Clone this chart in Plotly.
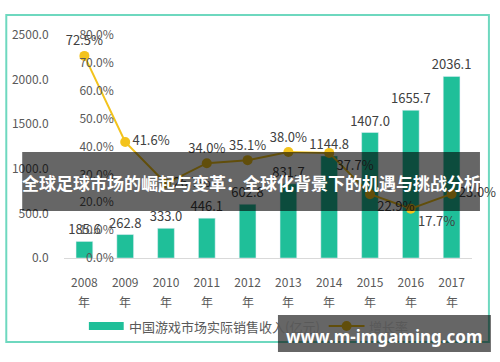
import plotly.graph_objects as go

years = ["2008", "2009", "2010", "2011", "2012", "2013", "2014", "2015", "2016", "2017"]
revenue = [185.6, 262.8, 333.0, 446.1, 602.8, 831.7, 1144.8, 1407.0, 1655.7, 2036.1]
growth = [0.725, 0.416, 0.267, 0.340, 0.351, 0.380, 0.377, 0.229, 0.177, 0.230]
growth_pos = ["top center", "middle right", "middle right", "top center", "top center",
              "top center", "bottom right", "bottom right", "bottom right", "middle right"]
left_ticks = [0, 500, 1000, 1500, 2000, 2500]
right_ticks = [0, 0.1, 0.2, 0.3, 0.4, 0.5, 0.6, 0.7, 0.8]
bar_name = "中国游戏市场实际销售收入(亿元)"
line_name = "增长率"
title_text = "全球足球市场的崛起与变革：全球化背景下的机遇与挑战分析"
watermark = "www.m-imgaming.com"

W, H = 500, 362
L, R, T, B = 62, 28, 35, 104
PW, PH = W - L - R, H - T - B

def px(x):
    return (x - L) / PW

def py(y):
    return (H - B - y) / PH

FONT = "Noto Sans CJK SC"
BAR_C = "#1fbf99"
LINE_C = "#f3c31c"
TXT = "#404040"
AX = "#595959"

fig = go.Figure()
fig.add_trace(go.Bar(
    x=years, y=revenue, name=bar_name, marker_color=BAR_C, width=0.41,
    text=[f"{v:.1f}" for v in revenue], textposition="outside", constraintext="none",
    textfont=dict(size=13, color=TXT), cliponaxis=False, showlegend=False,
))
fig.add_trace(go.Scatter(
    x=years, y=growth, name=line_name, yaxis="y2", mode="lines+markers+text",
    line=dict(color=LINE_C, width=2), marker=dict(size=10, color=LINE_C),
    text=[f"{v*100:.1f}%" for v in growth], textposition=growth_pos,
    textfont=dict(size=13, color=TXT), cliponaxis=False, showlegend=False,
))

fig.update_layout(
    width=W, height=H, margin=dict(l=L, r=R, t=T, b=B),
    paper_bgcolor="white", plot_bgcolor="white",
    font=dict(family=FONT, color=AX, size=12),
    xaxis=dict(type="category", range=[-0.5, len(years) - 0.5],
               categoryorder="array", categoryarray=years,
               showline=True, linecolor="#d9d9d9", linewidth=1,
               ticks="outside", ticklen=14, tickcolor="rgba(0,0,0,0)",
               tickfont=dict(size=12, color=AX), showgrid=False),
    yaxis=dict(range=[0, 2500], tickvals=left_ticks,
               ticktext=[f"{v:.1f}" for v in left_ticks], showgrid=False,
               zeroline=False, ticks="outside", ticklen=12, tickcolor="rgba(0,0,0,0)",
               tickfont=dict(size=12, color=AX)),
    yaxis2=dict(range=[0, 0.8], overlaying="y", anchor="free", side="left",
                position=px(112), tickvals=right_ticks,
                ticktext=[f"{v*100:.1f}%" for v in right_ticks],
                showgrid=False, zeroline=False, showline=False,
                tickfont=dict(size=12, color=AX)),
    showlegend=False,
)

# 年 row under year labels
for i, yr in enumerate(years):
    fig.add_annotation(x=i, xref="x", y=py(301), yref="paper", yanchor="middle",
                       text="年", showarrow=False, font=dict(size=12, color=AX))

shapes = []
# outer teal border
shapes.append(dict(type="rect", xref="paper", yref="paper", x0=px(4), x1=px(489),
                   y0=py(342), y1=py(15), line=dict(color="#6ed8bf", width=2),
                   fillcolor="rgba(0,0,0,0)", layer="below"))
# custom legend
shapes.append(dict(type="rect", xref="paper", yref="paper", x0=px(87), x1=px(122),
                   y0=py(330), y1=py(322), line=dict(width=0), fillcolor=BAR_C))
shapes.append(dict(type="line", xref="paper", yref="paper", x0=px(328), x1=px(364),
                   y0=py(326), y1=py(326), line=dict(color=LINE_C, width=2)))
shapes.append(dict(type="circle", xref="paper", yref="paper", x0=px(341), x1=px(351),
                   y0=py(331), y1=py(321), line=dict(width=0), fillcolor=LINE_C))
# overlays
shapes.append(dict(type="rect", xref="paper", yref="paper", x0=px(20), x1=px(480),
                   y0=py(211), y1=py(152), line=dict(width=0),
                   fillcolor="rgba(0,0,0,0.6)", layer="above"))
shapes.append(dict(type="rect", xref="paper", yref="paper", x0=px(277), x1=px(491),
                   y0=py(352), y1=py(315), line=dict(width=0),
                   fillcolor="rgba(0,0,0,0.6)", layer="above"))
fig.update_layout(shapes=shapes)

fig.add_annotation(x=px(125), y=py(326), xref="paper", yref="paper", xanchor="left",
                   yanchor="middle", text=bar_name, showarrow=False,
                   font=dict(size=13, color=AX))
fig.add_annotation(x=px(366), y=py(326), xref="paper", yref="paper", xanchor="left",
                   yanchor="middle", text=line_name, showarrow=False,
                   font=dict(size=13, color=AX))
fig.add_annotation(x=px(250), y=py(182), xref="paper", yref="paper", xanchor="center",
                   yanchor="middle", text="<b>" + title_text + "</b>", showarrow=False,
                   font=dict(size=17, color="white", family=FONT))
fig.add_annotation(x=px(384), y=py(336), xref="paper", yref="paper", xanchor="center",
                   yanchor="middle", text="<b>" + watermark + "</b>", showarrow=False,
                   font=dict(size=17, color="white", family="Noto Sans"))

fig.write_html("out.html", config={"displayModeBar": False},
               post_script="document.body.style.margin='0px';")
